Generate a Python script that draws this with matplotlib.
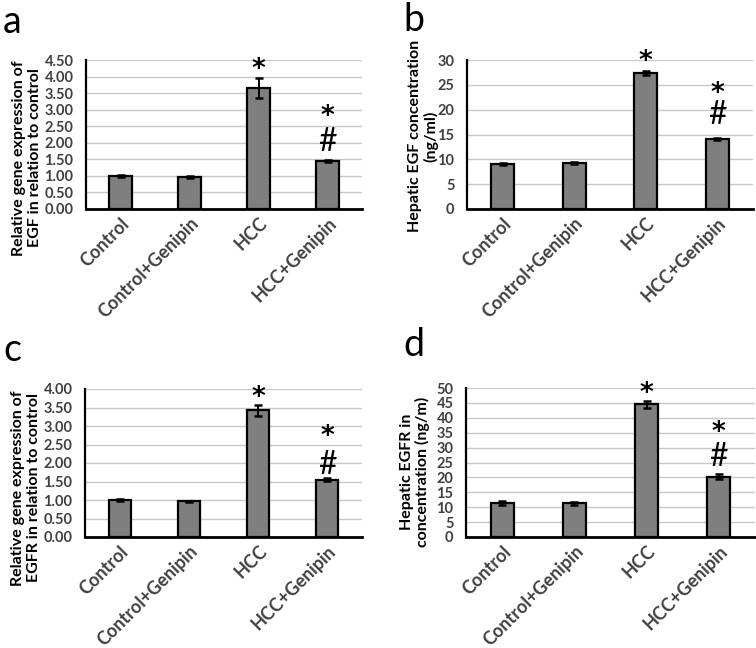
import numpy as np
import matplotlib
matplotlib.use('Agg')
import matplotlib.pyplot as plt
from matplotlib.transforms import ScaledTranslation

plt.rcParams['font.family'] = ['Lato', 'DejaVu Sans']

groups = ['Control', 'Control+Genipin', 'HCC', 'HCC+Genipin']

# panel a: EGF gene expression
egf_rel = [1.00, 0.97, 3.65, 1.44]
egf_rel_err = [0.03, 0.02, 0.30, 0.03]
# panel b: hepatic EGF (ng/ml)
egf_conc = [9.0, 9.2, 27.4, 14.1]
egf_conc_err = [0.2, 0.2, 0.4, 0.2]
# panel c: EGFR gene expression
egfr_rel = [1.00, 0.96, 3.43, 1.55]
egfr_rel_err = [0.02, 0.02, 0.15, 0.04]
# panel d: hepatic EGFR (ng/m)
egfr_conc = [11.5, 11.3, 44.5, 20.3]
egfr_conc_err = [0.7, 0.6, 1.2, 0.7]

# significance marks: (group index, symbol, y value of glyph centre)
marks_a = [(2, '*', 4.35), (3, '*', 2.93), (3, '#', 2.08)]
marks_b = [(2, '*', 30.6), (3, '*', 24.3), (3, '#', 19.3)]
marks_c = [(2, '*', 3.91), (3, '*', 2.86), (3, '#', 2.00)]
marks_d = [(2, '*', 49.8), (3, '*', 36.6), (3, '#', 27.4)]

W, H = 756, 648
fig = plt.figure(figsize=(W/100, H/100), dpi=100)

def px_axes(l, r, t, b):
    return [l/W, 1-b/H, (r-l)/W, (b-t)/H]

def panel(rect, vals, errs, yticks, fmt, marks):
    ax = fig.add_axes(rect)
    x = np.arange(len(groups))
    ax.bar(x, vals, width=0.32, color='#7f7f7f', edgecolor='black', linewidth=1.6, zorder=3)
    ax.errorbar(x, vals, yerr=errs, fmt='none', ecolor='black', elinewidth=1.4,
                capsize=3, capthick=1.8, zorder=4)
    for i, s, yv in marks:
        if s == '*':
            fs = 19
            off = ScaledTranslation(0, -0.47*fs/72, fig.dpi_scale_trans)
            ax.text(i, yv, s, ha='center', va='baseline', fontsize=fs, fontweight='bold',
                    family='DejaVu Sans', transform=ax.transData + off, zorder=5)
        else:
            fs = 23
            off = ScaledTranslation(0, -0.33*fs/72, fig.dpi_scale_trans)
            ax.text(i, yv, s, ha='center', va='baseline', fontsize=fs,
                    transform=ax.transData + off, zorder=5)
    ax.set_xlim(-0.5, 3.5)
    ax.set_ylim(0, yticks[-1])
    ax.set_yticks(yticks)
    ax.set_yticklabels([fmt.format(v) for v in yticks], fontsize=10.5, fontweight='bold', color='#404040')
    ax.set_xticks(x)
    ax.set_xticklabels(groups, rotation=45, ha='right', rotation_mode='anchor',
                       fontsize=13, fontweight='bold', color='#404040')
    ax.tick_params(axis='both', length=0)
    ax.tick_params(axis='y', pad=9)
    ax.tick_params(axis='x', pad=4)
    ax.yaxis.grid(True, color='#c8c8c8', linewidth=1.0, zorder=0)
    ax.set_axisbelow(True)
    for s in ['top', 'right']:
        ax.spines[s].set_visible(False)
    ax.spines['left'].set_linewidth(1.6)
    ax.spines['bottom'].set_linewidth(2.0)
    ax.spines['bottom'].set_zorder(6)
    return ax

panel(px_axes(86, 362, 60, 209), egf_rel, egf_rel_err,
      np.arange(0, 4.51, 0.5), '{:.2f}', marks_a)
panel(px_axes(467, 753, 60, 209), egf_conc, egf_conc_err,
      np.arange(0, 31, 5), '{:.0f}', marks_b)
panel(px_axes(85, 362, 389, 537), egfr_rel, egfr_rel_err,
      np.arange(0, 4.01, 0.5), '{:.2f}', marks_c)
panel(px_axes(466, 755, 388, 537), egfr_conc, egfr_conc_err,
      np.arange(0, 51, 5), '{:.0f}', marks_d)

def ylab(xc, yc, txt):
    fig.text(xc/W, 1-yc/H, txt, rotation=90, ha='center', va='center',
             fontsize=11.5, fontweight='bold', color='black', linespacing=1.15)

ylab(27, 158, 'Relative gene expression of\nEGF in relation to control')
ylab(423, 136, 'Hepatic EGF concentration\n(ng/ml)')
ylab(26, 488, 'Relative gene expression of\nEGFR in relation to control')
ylab(415, 472, 'Hepatic EGFR in\nconcentration (ng/m)')

for lx, ly, t in [(3, 22, 'a'), (403, 20, 'b'), (3, 350, 'c'), (403, 345, 'd')]:
    fig.text(lx/W, 1-ly/H, t, fontsize=27, ha='left', va='center')

fig.savefig('out.png', dpi=100)
